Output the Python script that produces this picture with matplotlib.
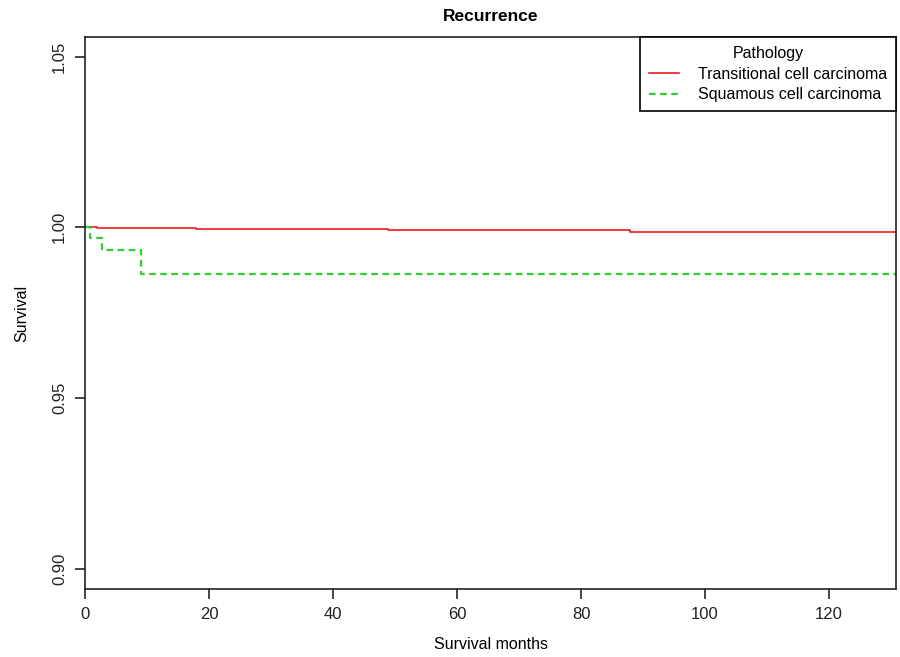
import matplotlib
matplotlib.use("Agg")
import matplotlib.pyplot as plt

plt.rcParams["font.family"] = ["Liberation Sans", "DejaVu Sans"]

# Kaplan-Meier step data (months, survival)
tcc_months = [0, 1.9, 17.9, 48.9, 87.9, 131]
tcc_surv = [1.0, 0.9998, 0.9994, 0.9991, 0.9987, 0.9987]

scc_months = [0, 0.8, 2.8, 9.0, 131]
scc_surv = [1.0, 0.9970, 0.9935, 0.9862, 0.9862]

group_labels = ["Transitional cell carcinoma", "Squamous cell carcinoma"]
x_ticks = [0, 20, 40, 60, 80, 100, 120]
y_ticks = [0.90, 0.95, 1.00, 1.05]

fig = plt.figure(figsize=(9, 6.57), dpi=100)
ax = fig.add_axes([0.0944, 0.1035, 0.9012, 0.8397])

ax.step(tcc_months, tcc_surv, where="post", color="#ee1c1c", lw=1.2,
        label=group_labels[0])
ax.step(scc_months, scc_surv, where="post", color="#33cc33", lw=1.6,
        dashes=(3, 2), label=group_labels[1])

ax.set_xlim(0, 130.8)
ax.set_ylim(0.894, 1.0557)
ax.set_xticks(x_ticks)
ax.set_yticks(y_ticks)
ax.set_yticklabels([f"{v:.2f}" for v in y_ticks], rotation=90, va="center")
ax.tick_params(axis="both", direction="out", length=7, width=1.2,
               labelsize=12, colors="#222222", pad=6)
ax.tick_params(axis="y", pad=6)
for sp in ax.spines.values():
    sp.set_linewidth(1.2)
    sp.set_color("#222222")

ax.set_title("Recurrence", fontsize=12.5, fontweight="bold", pad=12)
ax.set_xlabel("Survival months", fontsize=11.5, labelpad=11)
ax.set_ylabel("Survival", fontsize=11.5, labelpad=16)

leg = ax.legend(title="Pathology", loc="upper right", borderaxespad=0,
                fancybox=False, framealpha=1, edgecolor="black",
                fontsize=11.5, title_fontsize=11.5, handlelength=1.9,
                handletextpad=1.2, labelspacing=0.35, borderpad=0.55)
leg.get_frame().set_linewidth(1.2)

fig.savefig("out.png", dpi=100)
